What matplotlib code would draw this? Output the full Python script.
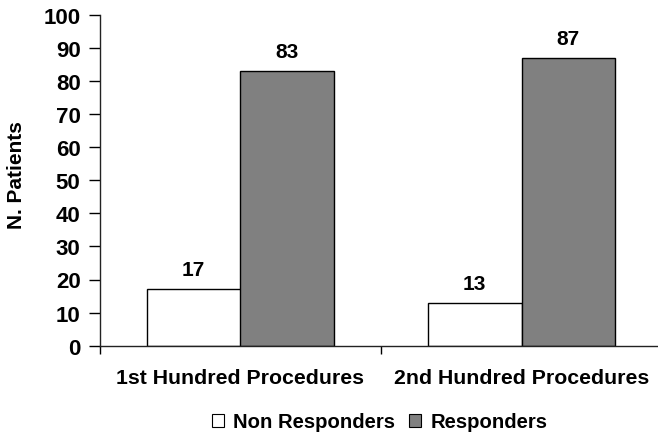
import matplotlib
matplotlib.use("Agg")
import matplotlib.pyplot as plt
from matplotlib.patches import Patch
import numpy as np

categories = ["1st Hundred Procedures", "2nd Hundred Procedures"]
series_names = ["Non Responders", "Responders"]
non_responders = [17, 13]
responders = [83, 87]
y_ticks = [0, 10, 20, 30, 40, 50, 60, 70, 80, 90, 100]

plt.rcParams["font.family"] = ["Liberation Sans", "DejaVu Sans"]
plt.rcParams["font.weight"] = "bold"

fig = plt.figure(figsize=(6.58, 4.35), dpi=100)
ax = fig.add_axes([100 / 658, 88.3 / 435, 562 / 658, 331 / 435])

x = np.arange(len(categories)) + 0.5
w = 1 / 3
b1 = ax.bar(x - w / 2, non_responders, w, color="white", edgecolor="black", linewidth=1.0)
b2 = ax.bar(x + w / 2, responders, w, color="#808080", edgecolor="black", linewidth=1.0)

for bars, vals in ((b1, non_responders), (b2, responders)):
    for rect, v in zip(bars, vals):
        ax.text(rect.get_x() + rect.get_width() / 2, v + 3, str(v),
                ha="center", va="bottom", fontsize=15, fontweight="bold")

ax.set_xlim(0, 2)
ax.set_ylim(0, 100)
ax.set_yticks(y_ticks)
ax.set_yticklabels([str(t) for t in y_ticks], fontsize=16, fontweight="bold")
ax.set_xticks([0, 1, 2])
ax.set_xticklabels([])
ax.set_xticks(x, minor=True)
ax.set_xticklabels(categories, minor=True, fontsize=15.3, fontweight="bold")
ax.tick_params(axis="x", which="minor", length=0, pad=16)
ax.tick_params(axis="x", which="major", length=6, width=1, direction="out")
ax.tick_params(axis="y", length=8, width=1, direction="out", pad=6)

ax.set_ylabel("N. Patients", fontsize=15, fontweight="bold")
ax.yaxis.set_label_coords(-0.131, 0.52)

for s in ("top", "right"):
    ax.spines[s].set_visible(False)
for s in ("left", "bottom"):
    ax.spines[s].set_color("#222222")
    ax.spines[s].set_linewidth(1.0)

handles = [Patch(facecolor="white", edgecolor="black", linewidth=0.8),
           Patch(facecolor="#808080", edgecolor="black", linewidth=0.8)]
fig.legend(handles, series_names, loc="center", bbox_to_anchor=(0.577, 12 / 435),
           ncol=2, frameon=False, handlelength=0.6, handleheight=0.6,
           handletextpad=0.45, columnspacing=0.7, prop={"weight": "bold", "size": 14.6})

fig.savefig("out.png", dpi=100)
